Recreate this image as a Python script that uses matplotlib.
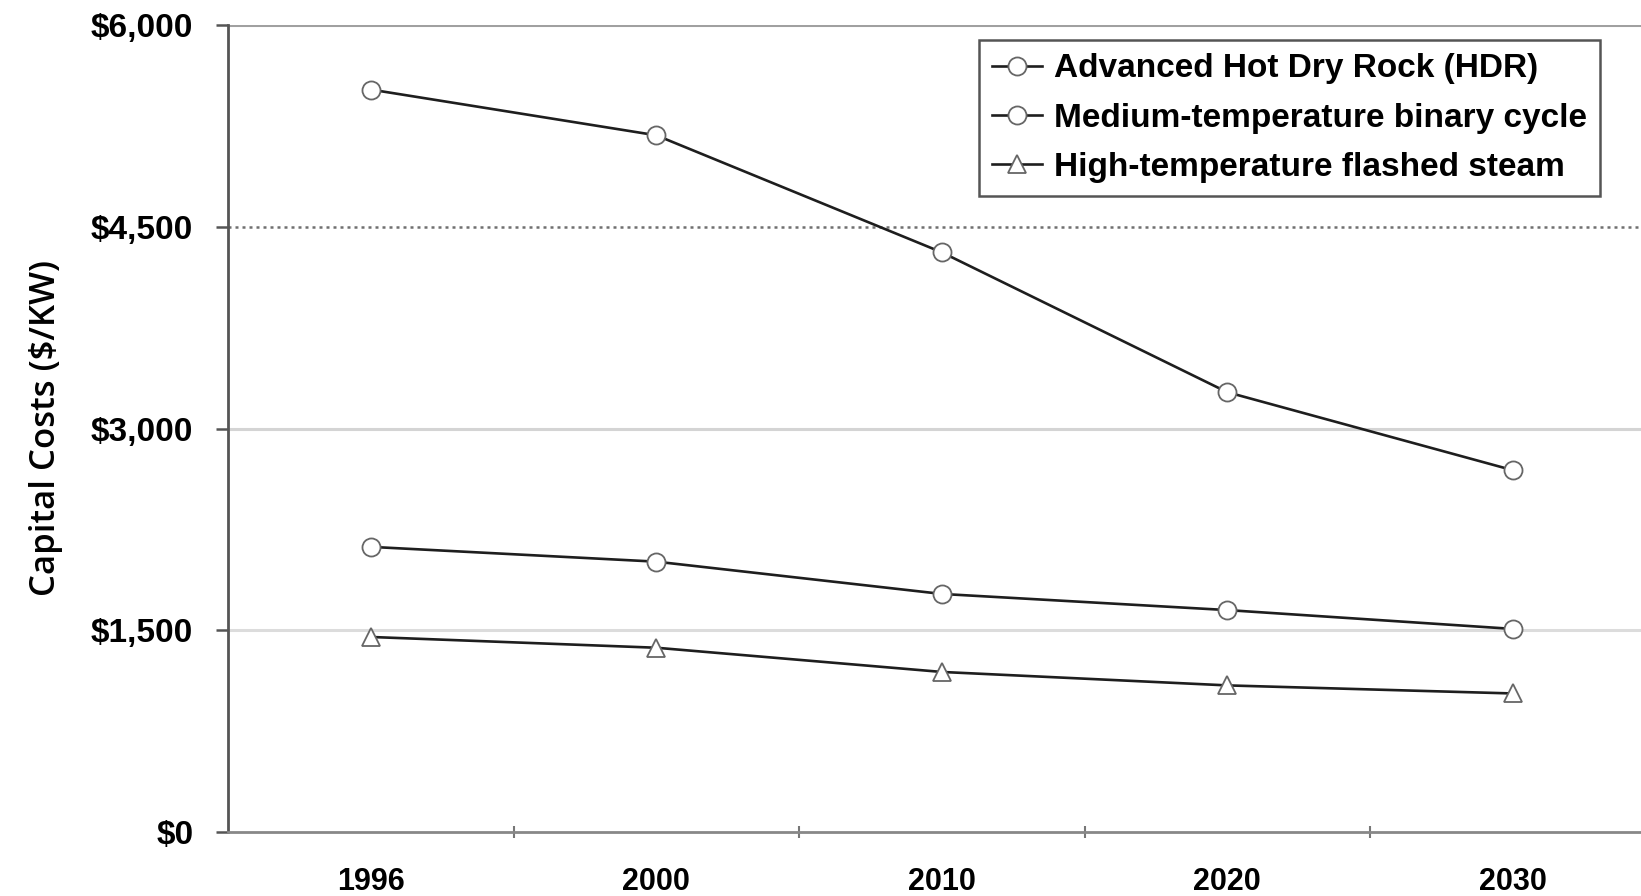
import matplotlib
matplotlib.use("Agg")
from matplotlib import pyplot as plt
from matplotlib.ticker import FuncFormatter

years = ["1996", "2000", "2010", "2020", "2030"]
hdr = [5520, 5180, 4310, 3270, 2690]
binary = [2120, 2010, 1770, 1650, 1510]
flashed = [1450, 1370, 1190, 1090, 1030]
y_ticks = [0, 1500, 3000, 4500, 6000]

plt.rcParams["font.family"] = ["Liberation Sans", "DejaVu Sans"]

fig = plt.figure(figsize=(16.41, 8.96), dpi=100)
ax = fig.add_axes([228 / 1641, 64 / 896, 1413 / 1641, 807 / 896])

x = [i + 0.5 for i in range(len(years))]

# grid lines, drawn by hand since they differ in style
ax.axhline(y_ticks[4], color="#a0a0a0", lw=2.2, zorder=1)
ax.axhline(y_ticks[3], color="#707070", lw=1.8, ls=(0, (1.2, 1.6)), zorder=1)
ax.axhline(y_ticks[2], color="#d4d4d4", lw=2.2, zorder=1)
ax.axhline(y_ticks[1], color="#dcdcdc", lw=2.2, zorder=1)

style = dict(color="#1e1e1e", lw=1.9, markersize=13, markerfacecolor="white",
             markeredgecolor="#666666", markeredgewidth=1.3, zorder=3)
ax.plot(x, hdr, marker="o", label="Advanced Hot Dry Rock (HDR)", **style)
ax.plot(x, binary, marker="o", label="Medium-temperature binary cycle", **style)
ax.plot(x, flashed, marker="^", label="High-temperature flashed steam", **style)

ax.set_xlim(0, 1413 / 285.5)
ax.set_ylim(0, 6000)

ax.set_xticks(x)
ax.set_xticklabels(years, fontsize=22, fontweight="bold")
ax.set_xticks([1, 2, 3, 4], minor=True)
ax.tick_params(axis="x", which="major", length=0, pad=25)
ax.tick_params(axis="x", which="minor", length=9, direction="inout", color="#777777", width=1.5)

ax.set_yticks(y_ticks)
ax.yaxis.set_major_formatter(FuncFormatter(lambda v, p: "${:,.0f}".format(v)))
for lab in ax.get_yticklabels():
    lab.set_fontweight("bold")
    lab.set_fontsize(24)
ax.tick_params(axis="y", length=9, direction="out", pad=16, color="#555555", width=1.8)

ax.set_ylabel("Capital Costs ($/KW)", fontsize=25, family=["Open Sans", "DejaVu Sans"],
              fontweight="semibold", labelpad=20)

for s in ["top", "right"]:
    ax.spines[s].set_visible(False)
ax.spines["left"].set_color("#555555")
ax.spines["left"].set_linewidth(2)
ax.spines["bottom"].set_color("#888888")
ax.spines["bottom"].set_linewidth(2)

leg = ax.legend(loc="upper left", bbox_to_anchor=((979 - 228) / 1413, (896 - 40 - 64) / 807),
                prop={"weight": "bold", "size": 24}, handlelength=1.5, handletextpad=0.35,
                labelspacing=0.55, borderpad=0.4, borderaxespad=0, fancybox=False,
                framealpha=1, edgecolor="#555555")
leg.get_frame().set_linewidth(1.8)

fig.savefig("out.png", dpi=100)
